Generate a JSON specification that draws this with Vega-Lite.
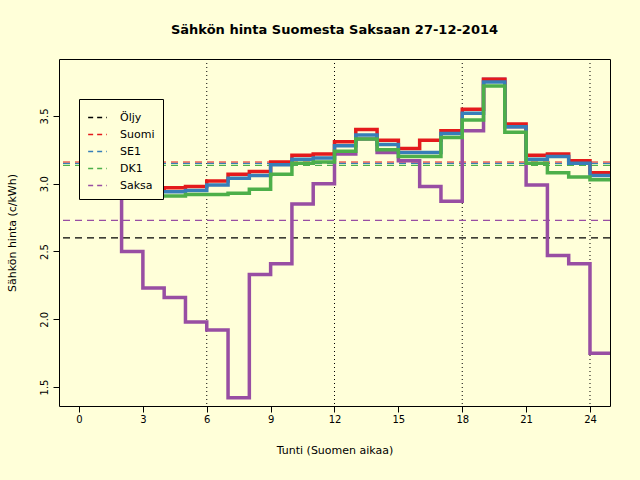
{
  "$schema": "https://vega.github.io/schema/vega-lite/v6.json",
  "width": 551,
  "height": 347,
  "autosize": "none",
  "padding": {"left": 59, "top": 59, "right": 30, "bottom": 74},
  "background": "#FFFFD9",
  "title": {"text": "Sähkön hinta Suomesta Saksaan 27-12-2014", "font": "DejaVu Sans", "fontSize": 13, "fontWeight": "bold", "offset": 22},
  "config": {
    "view": {"stroke": "black", "strokeWidth": 1},
    "font": "DejaVu Sans",
    "axis": {"labelFont": "DejaVu Sans", "labelFontSize": 10, "titleFont": "DejaVu Sans", "titleFontSize": 11, "titleFontWeight": "normal", "domain": false, "tickColor": "black", "tickSize": 6, "labelColor": "black", "titleColor": "black", "grid": false}
  },
  "datasets": {
    "steps": [
      {"h":1,"s":"Saksa","v":2.97},{"h":2,"s":"Saksa","v":2.5},{"h":3,"s":"Saksa","v":2.23},{"h":4,"s":"Saksa","v":2.16},{"h":5,"s":"Saksa","v":1.98},{"h":6,"s":"Saksa","v":1.92},{"h":7,"s":"Saksa","v":1.42},{"h":8,"s":"Saksa","v":2.33},{"h":9,"s":"Saksa","v":2.41},{"h":10,"s":"Saksa","v":2.85},{"h":11,"s":"Saksa","v":3.0},{"h":12,"s":"Saksa","v":3.22},{"h":13,"s":"Saksa","v":3.33},{"h":14,"s":"Saksa","v":3.23},{"h":15,"s":"Saksa","v":3.17},{"h":16,"s":"Saksa","v":2.98},{"h":17,"s":"Saksa","v":2.87},{"h":18,"s":"Saksa","v":3.39},{"h":19,"s":"Saksa","v":3.77},{"h":20,"s":"Saksa","v":3.42},{"h":21,"s":"Saksa","v":2.99},{"h":22,"s":"Saksa","v":2.47},{"h":23,"s":"Saksa","v":2.41},{"h":24,"s":"Saksa","v":1.75},{"h":25,"s":"Saksa","v":1.75},
      {"h":1,"s":"Suomi","v":2.97},{"h":2,"s":"Suomi","v":2.96},{"h":3,"s":"Suomi","v":2.96},{"h":4,"s":"Suomi","v":2.97},{"h":5,"s":"Suomi","v":2.98},{"h":6,"s":"Suomi","v":3.02},{"h":7,"s":"Suomi","v":3.07},{"h":8,"s":"Suomi","v":3.09},{"h":9,"s":"Suomi","v":3.16},{"h":10,"s":"Suomi","v":3.21},{"h":11,"s":"Suomi","v":3.22},{"h":12,"s":"Suomi","v":3.31},{"h":13,"s":"Suomi","v":3.4},{"h":14,"s":"Suomi","v":3.32},{"h":15,"s":"Suomi","v":3.26},{"h":16,"s":"Suomi","v":3.32},{"h":17,"s":"Suomi","v":3.39},{"h":18,"s":"Suomi","v":3.55},{"h":19,"s":"Suomi","v":3.77},{"h":20,"s":"Suomi","v":3.44},{"h":21,"s":"Suomi","v":3.21},{"h":22,"s":"Suomi","v":3.22},{"h":23,"s":"Suomi","v":3.17},{"h":24,"s":"Suomi","v":3.08},{"h":25,"s":"Suomi","v":3.08},
      {"h":1,"s":"SE1","v":2.96},{"h":2,"s":"SE1","v":2.94},{"h":3,"s":"SE1","v":2.94},{"h":4,"s":"SE1","v":2.94},{"h":5,"s":"SE1","v":2.95},{"h":6,"s":"SE1","v":2.99},{"h":7,"s":"SE1","v":3.04},{"h":8,"s":"SE1","v":3.06},{"h":9,"s":"SE1","v":3.14},{"h":10,"s":"SE1","v":3.18},{"h":11,"s":"SE1","v":3.19},{"h":12,"s":"SE1","v":3.28},{"h":13,"s":"SE1","v":3.36},{"h":14,"s":"SE1","v":3.29},{"h":15,"s":"SE1","v":3.23},{"h":16,"s":"SE1","v":3.23},{"h":17,"s":"SE1","v":3.37},{"h":18,"s":"SE1","v":3.52},{"h":19,"s":"SE1","v":3.75},{"h":20,"s":"SE1","v":3.42},{"h":21,"s":"SE1","v":3.18},{"h":22,"s":"SE1","v":3.2},{"h":23,"s":"SE1","v":3.15},{"h":24,"s":"SE1","v":3.06},{"h":25,"s":"SE1","v":3.06},
      {"h":1,"s":"DK1","v":2.96},{"h":2,"s":"DK1","v":2.92},{"h":3,"s":"DK1","v":2.91},{"h":4,"s":"DK1","v":2.91},{"h":5,"s":"DK1","v":2.92},{"h":6,"s":"DK1","v":2.92},{"h":7,"s":"DK1","v":2.93},{"h":8,"s":"DK1","v":2.96},{"h":9,"s":"DK1","v":3.07},{"h":10,"s":"DK1","v":3.15},{"h":11,"s":"DK1","v":3.16},{"h":12,"s":"DK1","v":3.24},{"h":13,"s":"DK1","v":3.33},{"h":14,"s":"DK1","v":3.25},{"h":15,"s":"DK1","v":3.2},{"h":16,"s":"DK1","v":3.2},{"h":17,"s":"DK1","v":3.34},{"h":18,"s":"DK1","v":3.47},{"h":19,"s":"DK1","v":3.72},{"h":20,"s":"DK1","v":3.38},{"h":21,"s":"DK1","v":3.15},{"h":22,"s":"DK1","v":3.08},{"h":23,"s":"DK1","v":3.05},{"h":24,"s":"DK1","v":3.03},{"h":25,"s":"DK1","v":3.03}
    ],
    "levels": [
      {"s":"Öljy","v":2.6},{"s":"Saksa","v":2.73},{"s":"DK1","v":3.135},{"s":"SE1","v":3.15},{"s":"Suomi","v":3.16}
    ],
    "grid": [{"h":6},{"h":12},{"h":18},{"h":24}]
  },
  "layer": [
    {
      "data": {"name": "grid"},
      "mark": {"type": "rule", "color": "black", "strokeDash": [1, 3], "strokeWidth": 1},
      "encoding": {"x": {"field": "h", "type": "quantitative", "scale": {"domain": [-0.94, 24.94], "nice": false, "zero": false}}}
    },
    {
      "data": {"name": "levels"},
      "mark": {"type": "rule", "strokeDash": [7, 5], "strokeWidth": 1.2},
      "encoding": {
        "y": {"field": "v", "type": "quantitative"},
        "color": {"field": "s", "type": "nominal"}
      }
    },
    {
      "data": {"name": "steps"},
      "mark": {"type": "line", "interpolate": "step-after", "strokeWidth": 3.5, "clip": true},
      "encoding": {
        "x": {"field": "h", "type": "quantitative", "title": "Tunti (Suomen aikaa)", "axis": {"values": [0,3,6,9,12,15,18,21,24], "titlePadding": 20}},
        "y": {"field": "v", "type": "quantitative", "title": "Sähkön hinta (c/kWh)", "scale": {"domain": [1.36, 3.92], "nice": false, "zero": false}, "axis": {"values": [1.5,2.0,2.5,3.0,3.5], "format": ".1f", "labelAngle": -90, "labelAlign": "center", "labelBaseline": "bottom", "labelPadding": 4, "titlePadding": 22}},
        "color": {"field": "s", "type": "nominal", "sort": ["Saksa","Suomi","SE1","DK1"],
          "scale": {"domain": ["Öljy","Suomi","SE1","DK1","Saksa"], "range": ["#000000","#E41A1C","#377EB8","#4DAF4A","#984EA3"]},
          "legend": {"title": null, "orient": "none", "legendX": 20, "legendY": 40, "symbolType": "stroke", "symbolDash": [5, 4], "symbolStrokeWidth": 1.5, "symbolSize": 350, "labelFontSize": 11, "labelColor": "black", "strokeColor": "black", "padding": 8, "rowPadding": 1, "labelOffset": 12, "fillColor": "#FFFFD9"}}
      }
    }
  ]
}
